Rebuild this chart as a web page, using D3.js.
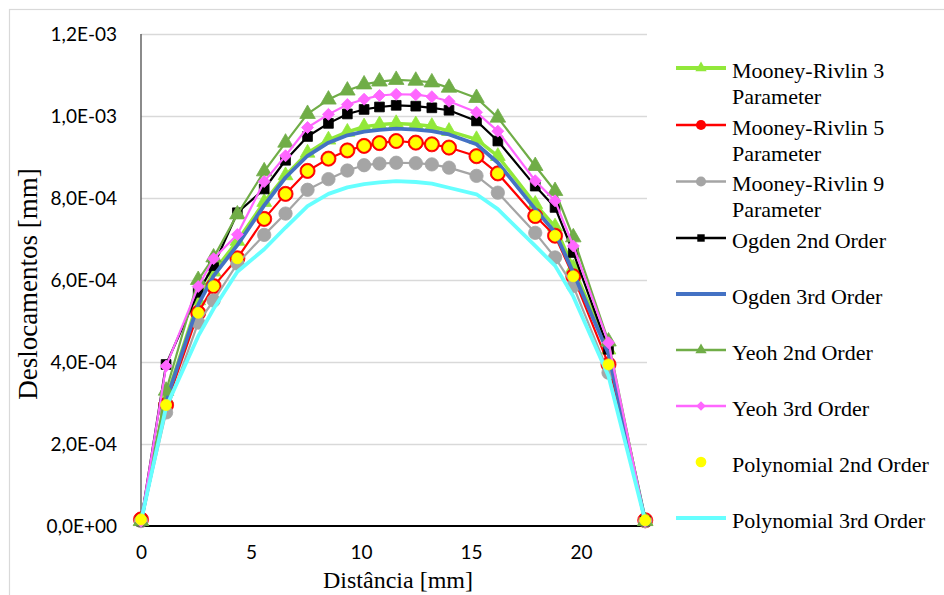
<!DOCTYPE html>
<html>
<head>
<meta charset="utf-8">
<script src="https://cdn.jsdelivr.net/npm/d3@7"></script>
<style>
  body { margin: 0; background: #ffffff; }
  svg { display: block; }
</style>
</head>
<body>
<svg id="chart" width="944" height="595"></svg>
<script>
// ---------------- DATA (displacement values in units of 1E-04 mm) ----------------
const xValues = [0, 1.14, 2.6, 3.3, 4.38, 5.6, 6.57, 7.57, 8.52, 9.38, 10.14, 10.84, 11.6, 12.49, 13.22, 14.0, 15.25, 16.22, 17.92, 18.82, 19.65, 21.25, 22.92];

const mooneyRivlin3 = [0.12, 3.1, 5.5, 6.2, 6.95, 7.9, 8.55, 9.1, 9.42, 9.61, 9.74, 9.79, 9.82, 9.79, 9.75, 9.63, 9.43, 9.02, 7.85, 7.3, 6.3, 4.3, 0.12];
const mooneyRivlin5 = [0.16, 2.95, 5.2, 5.85, 6.53, 7.49, 8.1, 8.66, 8.96, 9.16, 9.27, 9.34, 9.39, 9.35, 9.31, 9.23, 9.02, 8.6, 7.56, 7.08, 6.09, 3.94, 0.14];
const mooneyRivlin9 = [0.12, 2.77, 4.96, 5.5, 6.4, 7.1, 7.62, 8.2, 8.46, 8.67, 8.8, 8.84, 8.86, 8.85, 8.82, 8.74, 8.54, 8.13, 7.15, 6.55, 5.85, 3.74, 0.12];
const ogden2nd     = [0.12, 3.94, 5.7, 6.35, 7.64, 8.22, 8.92, 9.5, 9.82, 10.05, 10.16, 10.22, 10.26, 10.24, 10.2, 10.14, 9.88, 9.39, 8.29, 7.77, 6.67, 4.31, 0.12];
const ogden3rd     = [0.12, 3.05, 5.4, 6.1, 6.85, 7.82, 8.5, 9.03, 9.35, 9.53, 9.62, 9.66, 9.69, 9.67, 9.63, 9.55, 9.31, 8.86, 7.73, 7.16, 6.18, 4.2, 0.12];
const yeoh2nd      = [0.12, 3.3, 6.0, 6.55, 7.6, 8.65, 9.35, 10.05, 10.4, 10.62, 10.77, 10.84, 10.88, 10.86, 10.82, 10.69, 10.44, 9.96, 8.78, 8.17, 7.04, 4.5, 0.12];
const yeoh3rd      = [0.12, 3.9, 5.84, 6.52, 7.11, 8.4, 9.03, 9.72, 10.04, 10.28, 10.41, 10.5, 10.53, 10.52, 10.47, 10.36, 10.09, 9.63, 8.42, 7.93, 6.83, 4.47, 0.12];
const polynomial2nd = [0.16, 2.95, 5.2, 5.85, 6.53, 7.49, 8.1, 8.66, 8.96, 9.16, 9.27, 9.34, 9.39, 9.35, 9.31, 9.23, 9.02, 8.6, 7.56, 7.08, 6.09, 3.94, 0.14];
const polynomial3rd = [0.12, 2.9, 4.63, 5.3, 6.2, 6.75, 7.28, 7.8, 8.1, 8.26, 8.34, 8.38, 8.41, 8.39, 8.35, 8.25, 8.09, 7.73, 6.83, 6.35, 5.6, 3.66, 0.12];
const valueUnit = 1e-4;

const seriesNames = [
  ["Mooney-Rivlin 3", "Parameter"],
  ["Mooney-Rivlin 5", "Parameter"],
  ["Mooney-Rivlin 9", "Parameter"],
  ["Ogden 2nd Order"],
  ["Ogden 3rd Order"],
  ["Yeoh 2nd Order"],
  ["Yeoh 3rd Order"],
  ["Polynomial 2nd Order"],
  ["Polynomial 3rd Order"]
];
const yTickValues = [0, 2e-4, 4e-4, 6e-4, 8e-4, 1e-3, 1.2e-3];
const xTickValues = [0, 5, 10, 15, 20];
const xTitle = "Distância [mm]";
const yTitle = "Deslocamentos [mm]";

// ---------------- STYLE ----------------
const seriesStyle = [
  { values: mooneyRivlin3, color: "#92E83A", width: 3.5, marker: "triangle", msize: 95,  lsize: 55 },
  { values: mooneyRivlin5, color: "#FF0000", width: 2.2, marker: "circle",   msize: 180, lsize: 80 },
  { values: mooneyRivlin9, color: "#A5A5A5", width: 2.2, marker: "circle",   msize: 140, lsize: 80 },
  { values: ogden2nd,      color: "#000000", width: 2.2, marker: "square",   msize: 95,  lsize: 55 },
  { values: ogden3rd,      color: "#4472C4", width: 3.8, marker: null },
  { values: yeoh2nd,       color: "#70AD47", width: 2.2, marker: "triangle", msize: 105, lsize: 55 },
  { values: yeoh3rd,       color: "#FF66FF", width: 2.2, marker: "diamond",  msize: 72,  lsize: 45 },
  { values: polynomial2nd, color: "#FFFF00", width: 0,   marker: "circle",   msize: 95,  lsize: 90, noLine: true },
  { values: polynomial3rd, color: "#66FFFF", width: 3.8, marker: null }
];

const svg = d3.select("#chart");
const W = 944, H = 595;
const plot = { left: 141, right: 647, top: 34, bottom: 526 };

const x = d3.scaleLinear().domain([0, 23]).range([plot.left, plot.right]);
const y = d3.scaleLinear().domain([0, 1.2e-3]).range([plot.bottom, plot.top]);

function sciFmt(d) {
  if (d === 0) return "0,0E+00";
  const e = Math.floor(Math.log10(d) + 1e-9);
  const m = d / Math.pow(10, e);
  const es = (e < 0 ? "-" : "+") + String(Math.abs(e)).padStart(2, "0");
  return m.toFixed(1).replace(".", ",") + "E" + es;
}

// background + outer border
svg.append("rect").attr("width", W).attr("height", H).attr("fill", "#ffffff");
svg.append("rect").attr("x", 9.5).attr("y", 9.5).attr("width", W + 20).attr("height", H + 20)
  .attr("fill", "none").attr("stroke", "#d9d9d9").attr("stroke-width", 1.2);

// gridlines
const grid = svg.append("g").attr("transform", `translate(${plot.left},0)`)
  .call(d3.axisLeft(y).tickValues(yTickValues.filter(v => v > 0)).tickSize(-(plot.right - plot.left)).tickFormat(""));
grid.select(".domain").remove();
grid.selectAll(".tick line").attr("stroke", "#d9d9d9").attr("stroke-width", 1.4);

// y axis labels
const yAxis = svg.append("g").attr("transform", `translate(${plot.left},0)`)
  .call(d3.axisLeft(y).tickValues(yTickValues).tickSize(0).tickPadding(24).tickFormat(sciFmt));
yAxis.select(".domain").remove();
yAxis.selectAll("text").attr("font-family", "Lato, 'Open Sans', sans-serif").attr("font-size", 19).attr("fill", "#000");

// y axis line
svg.append("line").attr("x1", plot.left).attr("x2", plot.left).attr("y1", plot.top).attr("y2", plot.bottom)
  .attr("stroke", "#595959").attr("stroke-width", 1.4);

// x axis
const xAxis = svg.append("g").attr("transform", `translate(0,${plot.bottom})`)
  .call(d3.axisBottom(x).tickValues(xTickValues).tickSize(0).tickPadding(20).tickFormat(d3.format("d")));
xAxis.select(".domain").remove();
xAxis.selectAll("text").attr("font-family", "Lato, 'Open Sans', sans-serif").attr("font-size", 19).attr("fill", "#000");
svg.append("line").attr("x1", plot.left).attr("x2", plot.right).attr("y1", plot.bottom).attr("y2", plot.bottom)
  .attr("stroke", "#000").attr("stroke-width", 1.8);

// axis titles
svg.append("text").attr("x", (plot.left + plot.right) / 2 + 4).attr("y", 588)
  .attr("text-anchor", "middle").attr("font-family", "'Liberation Serif', serif").attr("font-size", 24)
  .text(xTitle);
svg.append("text").attr("transform", `translate(37,${(plot.top + plot.bottom) / 2 + 4}) rotate(-90)`)
  .attr("text-anchor", "middle").attr("font-family", "'Liberation Serif', serif").attr("font-size", 27)
  .text(yTitle);

function symbolFor(type, size) {
  if (type === "triangle") return d3.symbol().type(d3.symbolTriangle).size(size)();
  if (type === "square") return d3.symbol().type(d3.symbolSquare).size(size)();
  if (type === "diamond") return d3.symbol().type(d3.symbolSquare).size(size)();
  return d3.symbol().type(d3.symbolCircle).size(size)();
}

const lineGen = d3.line().x(d => x(d[0])).y(d => y(d[1] * valueUnit));
const series = seriesStyle.map((s, i) => ({ ...s, name: seriesNames[i], pts: xValues.map((xv, j) => [xv, s.values[j]]) }));

const drawOrder = [0, 1, 2, 3, 4, 5, 6, 8, 7];
const gSeries = svg.append("g");
drawOrder.forEach(i => {
  const s = series[i];
  const g = gSeries.append("g");
  if (!s.noLine) {
    g.append("path").datum(s.pts).attr("d", lineGen).attr("fill", "none")
      .attr("stroke", s.color).attr("stroke-width", s.width).attr("stroke-linejoin", "round");
  }
  if (s.marker) {
    g.selectAll("path.m").data(s.pts).join("path").attr("class", "m")
      .attr("d", symbolFor(s.marker, s.msize))
      .attr("transform", d => `translate(${x(d[0])},${y(d[1] * valueUnit)})` + (s.marker === "diamond" ? " rotate(45)" : ""))
      .attr("fill", s.color).attr("stroke", s.color).attr("stroke-width", 0.8);
  }
});

// legend
const legendY = [68, 125, 181.5, 238, 294, 350, 406, 462, 518];
const leg = svg.append("g");
series.forEach((s, i) => {
  const ly = legendY[i];
  if (!s.noLine) {
    leg.append("line").attr("x1", 676).attr("x2", 726).attr("y1", ly).attr("y2", ly)
      .attr("stroke", s.color).attr("stroke-width", s.width + 0.3);
  }
  if (s.marker) {
    leg.append("path").attr("d", symbolFor(s.marker, s.lsize))
      .attr("transform", `translate(701,${ly})` + (s.marker === "diamond" ? " rotate(45)" : ""))
      .attr("fill", s.color);
  }
  s.name.forEach((t, k) => {
    leg.append("text").attr("x", 732).attr("y", ly + 2 + k * 26).attr("dy", "0.35em")
      .attr("font-family", "'Liberation Serif', serif").attr("font-size", 22).attr("fill", "#000")
      .text(t);
  });
});
</script>
</body>
</html>
